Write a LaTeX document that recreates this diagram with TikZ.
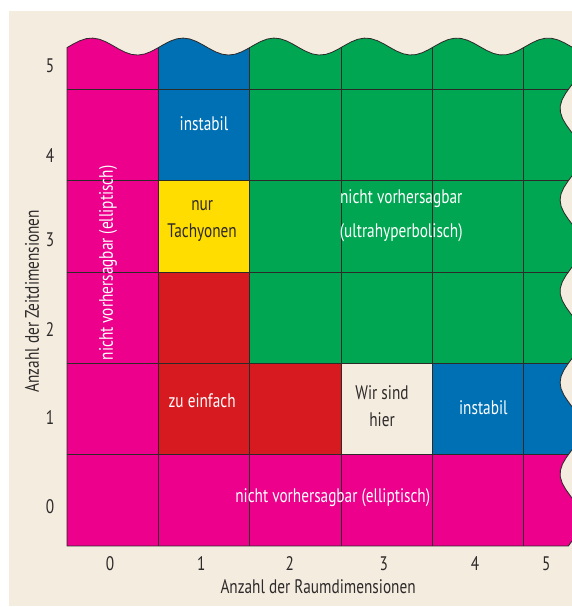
\documentclass[tikz,border=0pt]{standalone}
\usepackage{fontspec}
\setmainfont[FakeStretch=0.78]{PT Sans}
\definecolor{bgbeige}{RGB}{245,236,224}
\definecolor{cellmag}{RGB}{236,0,140}
\definecolor{cellblue}{RGB}{0,112,180}
\definecolor{cellgreen}{RGB}{0,166,81}
\definecolor{cellyellow}{RGB}{255,221,0}
\definecolor{cellred}{RGB}{215,25,32}
\definecolor{inkgray}{RGB}{45,42,42}

\begin{document}
\begin{tikzpicture}[x=91.3pt, y=91.3pt, line join=round, line cap=round,
                    gridline/.style={draw=inkgray, line width=0.8pt},
                    onwhite/.style={text=white, inner sep=0pt},
                    ondark/.style={text=inkgray, inner sep=0pt},
                    axnum/.style={text=inkgray, inner sep=0pt}
                   ]
\fontsize{19.6}{23.5}\selectfont
\useasboundingbox (-0.734,-0.668) rectangle (5.520,5.980);
%background
\fill [bgbeige] (-0.635,-0.657) rectangle (5.6,5.860);

%wavy outline of the chart
\def\chartpath{(0,0) -- plot[domain=0:5.59, samples=80]
      (\x,{5.47+0.093*cos(360*(\x-0.27))})
   -- plot[domain=5.44:0, samples=80]
      ({5.52-0.12*cos(360*(\x-0.79))},\x) -- cycle}

\begin{scope}
  \clip \chartpath;
  %cells
  \fill [cellmag] (0,0) rectangle (1,6);
  \fill [cellmag] (0,0) rectangle (6,1);
  \fill [cellblue] (1,4) rectangle (2,6);
  \fill [cellgreen] (2,2) rectangle (6,6);
  \fill [cellyellow] (1,3) rectangle (2,4);
  \fill [cellred] (1,1) rectangle (2,3);
  \fill [cellred] (2,1) rectangle (3,2);
  \fill [bgbeige] (3,1) rectangle (4,2);
  \fill [cellblue] (4,1) rectangle (6,2);
  %grid
  \foreach \i in {1,...,5}{
    \draw [gridline] (\i,0) -- (\i,6);
    \draw [gridline] (0,\i) -- (6,\i);
  }
\end{scope}
\draw [gridline] \chartpath;

%labels in the cells
\node [onwhite] (instabiltop) at (1.5,4.62) {instabil};
\node [ondark, align=center] (tachyonen) at (1.48,3.56) {nur\\[4pt]Tachyonen};
\node [onwhite, align=center] (ultrahyp) at (3.66,3.62) {nicht vorhersagbar\\[10pt](ultrahyperbolisch)};
\node [onwhite] (einfach) at (1.48,1.59) {zu einfach};
\node [ondark, align=center] (wirsind) at (3.45,1.53) {Wir sind\\[3pt]hier};
\node [onwhite] (instabilright) at (4.56,1.52) {instabil};
\node [onwhite] (ellipbottom) at (2.91,0.53) {nicht vorhersagbar (elliptisch)};
\node [onwhite, rotate=90] (ellipleft) at (0.45,3.10) {nicht vorhersagbar (elliptisch)};

%axes
\foreach \n/\yy in {0/0.43,1/1.41,2/2.37,3/3.35,4/4.28,5/5.26}
  \node [axnum] (tnum\n) at (-0.186,\yy) {\n};
\foreach \n/\xx in {0/0.47,1/1.47,2/2.44,3/3.47,4/4.47,5/5.25}
  \node [axnum] (snum\n) at (\xx,-0.197) {\n};
\node [axnum] (raumlabel) at (2.75,-0.44) {Anzahl der Raumdimensionen};
\node [axnum, rotate=90] (zeitlabel) at (-0.383,2.68) {Anzahl der Zeitdimensionen};
\end{tikzpicture}
\end{document}
